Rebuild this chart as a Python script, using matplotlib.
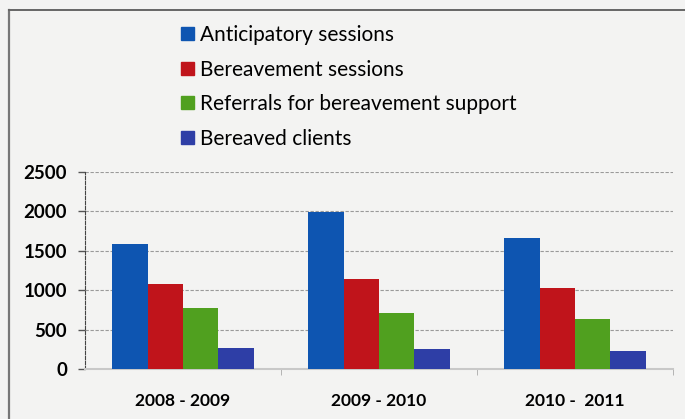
import numpy as np
import matplotlib
matplotlib.use("Agg")
import matplotlib.pyplot as plt
from matplotlib.patches import Patch
from matplotlib.lines import Line2D

plt.rcParams['font.family'] = ['Lato', 'DejaVu Sans']

years = ["2008 - 2009", "2009 - 2010", "2010 -  2011"]
series = ["Anticipatory sessions", "Bereavement sessions",
          "Referrals for bereavement support", "Bereaved clients"]
anticipatory = [1580, 1990, 1660]
bereavement = [1075, 1140, 1030]
referrals = [770, 710, 635]
clients = [260, 255, 225]
colors = ["#0e55b1", "#c0141b", "#50a01f", "#2e3ea6"]

values = [anticipatory, bereavement, referrals, clients]

fig = plt.figure(figsize=(6.85, 4.19), dpi=100)
fig.patch.set_facecolor("#f3f3f2")

# page frame lines
fig.add_artist(Line2D([9 / 685, 9 / 685], [0, 1 - 10 / 419], color="#777777", lw=1.6))
fig.add_artist(Line2D([9 / 685, 1], [1 - 10 / 419, 1 - 10 / 419], color="#666666", lw=1.4))

ax = fig.add_axes([85 / 685, 1 - 369 / 419, 588 / 685, (369 - 171.7) / 419])
ax.set_facecolor("none")

x = np.arange(len(years))
w = 0.181
for i, (vals, c) in enumerate(zip(values, colors)):
    ax.bar(x + (i - 1.5) * w, vals, w, color=c, zorder=3)

ax.set_xlim(-0.5, 2.5)
ax.set_ylim(0, 2500)
ax.set_yticks(range(0, 2501, 500))
ax.set_xticks(x)
ax.set_xticklabels(years, fontsize=12.5, fontweight="bold")
ax.set_xticks([0.5, 1.5, 2.5], minor=True)
ax.tick_params(axis="x", which="major", length=0, pad=17)
ax.tick_params(axis="x", which="minor", length=4, color="#aaaaaa")
ax.tick_params(axis="y", length=5, width=1, color="#555555", pad=8,
               labelsize=13.5)
for lab in ax.get_yticklabels():
    lab.set_fontweight("bold")

ax.grid(axis="y", color="#9a9a9a", linestyle=(0, (3, 1.5)), lw=0.8, zorder=0)
for s in ["top", "right"]:
    ax.spines[s].set_visible(False)
ax.spines["left"].set_linestyle((0, (3, 1.5)))
ax.spines["left"].set_color("#444444")
ax.spines["bottom"].set_color("#c8c8c8")
ax.spines["bottom"].set_linewidth(1.5)

handles = [Patch(facecolor=c, edgecolor=c) for c in colors]
fig.legend(handles, series, loc="upper left", bbox_to_anchor=(181 / 685, 1 - 25 / 419),
           frameon=False, fontsize=15, handlelength=0.6, handleheight=0.6,
           handletextpad=0.3, labelspacing=0.7, borderpad=0, borderaxespad=0)

fig.savefig("out.png", dpi=100, facecolor=fig.get_facecolor())
